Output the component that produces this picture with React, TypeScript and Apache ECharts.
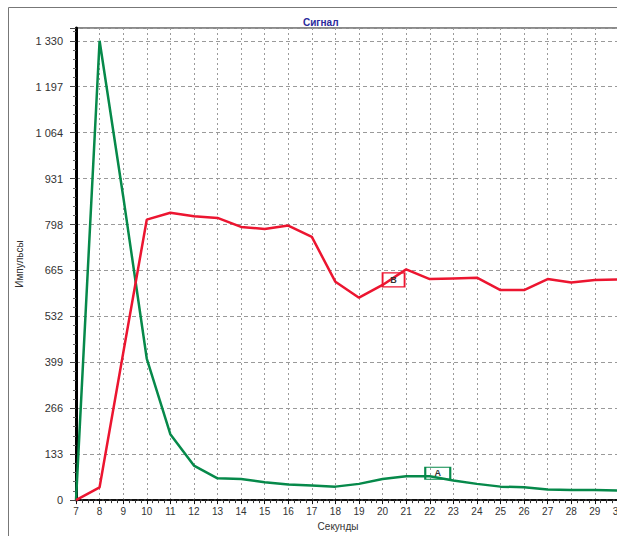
import React, { useEffect, useRef } from "react";
import * as echarts from "echarts";

// Seconds on the x axis (one point per second)
const seconds = [7, 8, 9, 10, 11, 12, 13, 14, 15, 16, 17, 18, 19, 20, 21, 22, 23, 24, 25, 26, 27, 28, 29, 30];
// Series A (green)
const signalA = [0, 1330, 880, 410, 191, 100, 63, 61, 52, 45, 42, 39, 47, 61, 69, 69, 57, 47, 39, 37, 31, 29, 29, 28];
// Series B (red)
const signalB = [0, 37, 425, 812, 832, 822, 817, 791, 785, 795, 762, 632, 586, 623, 668, 640, 642, 644, 608, 608, 640, 630, 637, 639];
// Y tick step and axis extent
const yStep = 133;
const yMax = 1367;
const xMin = 7;
const xMax = 31;
// Marker labels
const markerA = { name: "A", second: 22 };
const markerB = { name: "B", second: 20 };

const FONT = "Arial, 'Liberation Sans', sans-serif";

function fmt(v: number): string {
  return String(v).replace(/\B(?=(\d{3})+(?!\d))/g, " ");
}

export default function App() {
  const ref = useRef<HTMLDivElement>(null);

  useEffect(() => {
    if (!ref.current) return;
    const chart = echarts.init(ref.current, null, { renderer: "svg" });
    const green = "#06894a";
    const red = "#ec1530";
    const idxA = seconds.indexOf(markerA.second);
    const idxB = seconds.indexOf(markerB.second);

    chart.setOption({
      animation: false,
      backgroundColor: "#ffffff",
      title: {
        text: "Сигнал",
        left: 298,
        top: 12,
        textStyle: { fontSize: 10, fontWeight: "bold", color: "#2a2a9c", fontFamily: FONT },
      },
      graphic: [
        {
          type: "rect",
          silent: true,
          shape: { x: 8.5, y: 7.5, width: 700, height: 700 },
          style: { fill: "none", stroke: "#777777", lineWidth: 1 },
        },
      ],
      grid: {
        left: 76,
        top: 28,
        width: 566,
        height: 475,
        show: true,
        borderColor: "#8a8a8a",
        borderWidth: 2,
      },
      xAxis: {
        type: "value",
        min: xMin,
        max: xMax,
        interval: 1,
        name: "Секунды",
        nameLocation: "middle",
        nameGap: 16,
        nameTextStyle: { fontSize: 10, color: "#333", fontFamily: FONT, padding: [0, 42, 0, 0] },
        axisLine: { show: true, onZero: false, lineStyle: { color: "#111", width: 2, type: [5, 2] } },
        axisTick: { show: true, length: 4, lineStyle: { color: "#111" } },
        minorTick: { show: true, splitNumber: 4, length: 3, lineStyle: { color: "#333" } },
        axisLabel: { color: "#333", fontSize: 10, margin: 6, fontFamily: FONT },
        splitLine: { show: true, lineStyle: { color: "#9a9a9a", type: [2, 3], width: 1 } },
      },
      yAxis: {
        type: "value",
        min: 0,
        max: yMax,
        interval: yStep,
        name: "Импульсы",
        nameLocation: "middle",
        nameGap: 50,
        nameRotate: 90,
        nameTextStyle: { fontSize: 10, color: "#333", fontFamily: FONT },
        axisLine: { show: true, lineStyle: { color: "#000", width: 3 } },
        axisTick: { show: true, length: 6, lineStyle: { color: "#444" } },
        minorTick: { show: true, splitNumber: 5, length: 3, lineStyle: { color: "#666" } },
        axisLabel: {
          showMaxLabel: false,
          color: "#333",
          fontSize: 11,
          margin: 13,
          fontFamily: FONT,
          formatter: (v: number) => fmt(v),
        },
        splitLine: { show: true, lineStyle: { color: "#9a9a9a", type: [4, 3], width: 1 } },
      },
      series: [
        {
          name: "A",
          type: "line",
          data: seconds.map((s, i) => [s, signalA[i]]),
          symbol: "none",
          lineStyle: { color: green, width: 2.5 },
          itemStyle: { color: green },
          markPoint: {
            symbol: "rect",
            symbolSize: [25, 12],
            symbolOffset: [8, -3],
            itemStyle: { color: "rgba(255,255,255,0)", borderColor: green, borderWidth: 1.5 },
            label: { show: true, position: "inside", formatter: markerA.name, color: "#333", fontSize: 9, fontWeight: "bold", fontFamily: FONT },
            data: [{ coord: [markerA.second, signalA[idxA]] }],
          },
        },
        {
          name: "B",
          type: "line",
          data: seconds.map((s, i) => [s, signalB[i]]),
          symbol: "none",
          lineStyle: { color: red, width: 2.5 },
          itemStyle: { color: red },
          markPoint: {
            symbol: "rect",
            symbolSize: [22, 14],
            symbolOffset: [11, -5],
            itemStyle: { color: "rgba(255,255,255,0)", borderColor: red, borderWidth: 1.5 },
            label: { show: true, position: "inside", formatter: markerB.name, color: "#333", fontSize: 9, fontWeight: "bold", fontFamily: FONT },
            data: [{ coord: [markerB.second, signalB[idxB]] }],
          },
        },
      ],
    });

    return () => chart.dispose();
  }, []);

  return (
    <div
      style={{
        position: "absolute",
        left: 0,
        top: 0,
        width: 617,
        height: 536,
        overflow: "hidden",
        background: "#fff",
      }}
    >
      <div ref={ref} style={{ width: 660, height: 536 }} />
    </div>
  );
}
